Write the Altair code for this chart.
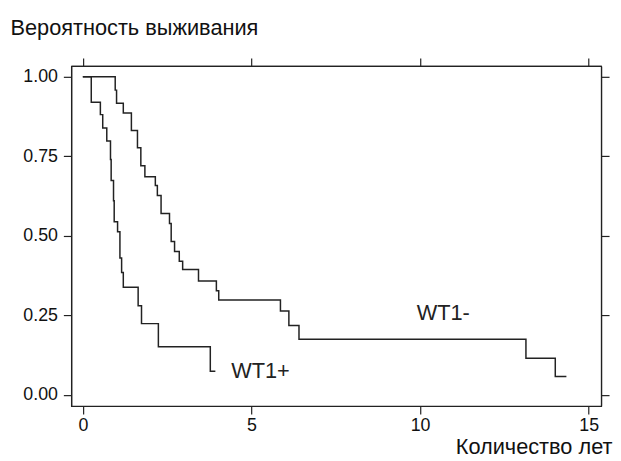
import altair as alt
import pandas as pd

# WT1+ group (Kaplan-Meier step points)
wt1p_time = [0, 0.25, 0.52, 0.59, 0.71, 0.82, 0.84, 0.91, 0.93, 1.03, 1.10, 1.15, 1.20, 1.64, 1.74, 2.24, 3.78, 3.93]
wt1p_surv = [1.0, 0.920, 0.881, 0.839, 0.798, 0.74, 0.674, 0.61, 0.544, 0.513, 0.43, 0.385, 0.338, 0.280, 0.224, 0.151, 0.074, 0.074]

# WT1- group
wt1m_time = [0, 0.96, 1.0, 1.20, 1.44, 1.62, 1.72, 1.84, 2.15, 2.21, 2.32, 2.57, 2.62, 2.72, 2.86, 2.96,
             3.43, 3.96, 4.03, 5.86, 6.11, 6.41, 13.14, 14.01, 14.34]
wt1m_surv = [1.0, 0.958, 0.917, 0.886, 0.831, 0.777, 0.72, 0.686, 0.658, 0.627, 0.570, 0.539, 0.482, 0.451, 0.420, 0.394,
             0.358, 0.327, 0.298, 0.264, 0.218, 0.175, 0.115, 0.058, 0.058]

label_text = ["WT1-", "WT1+"]
label_x = [9.9, 4.40]
label_y = [0.234, 0.053]

x_ticks = [0, 5, 10, 15]
y_ticks = [0, 0.25, 0.5, 0.75, 1.0]

FONT = "Liberation Sans"
INK = "#222222"

rows = []
for t, s in zip(wt1p_time, wt1p_surv):
    rows.append({"group": "WT1+", "t": t, "s": s})
for t, s in zip(wt1m_time, wt1m_surv):
    rows.append({"group": "WT1-", "t": t, "s": s})
df = pd.DataFrame(rows)
labels = pd.DataFrame({"txt": label_text, "t": label_x, "s": label_y})

xscale = alt.Scale(domain=[-0.343, 15.37], nice=False, zero=False)
yscale = alt.Scale(domain=[-0.035, 1.034], nice=False, zero=False)

lines = alt.Chart(df).mark_line(interpolate="step-after", color=INK, strokeWidth=1.5).encode(
    x=alt.X("t:Q", scale=xscale,
            axis=alt.Axis(values=x_ticks, format="d", orient="bottom", tickSize=8, labelPadding=3,
                          title="Количество лет", titleAngle=0, titleAlign="right", titleBaseline="alphabetic",
                          titleX=547, titleY=48, titleFontSize=22, titleFontWeight="normal")),
    y=alt.Y("s:Q", scale=yscale,
            axis=alt.Axis(values=y_ticks, format=".2f", orient="left", tickSize=8, labelPadding=6,
                          title="Вероятность выживания", titleAngle=0, titleAlign="left",
                          titleBaseline="alphabetic", titleX=-62, titleY=-32, titleFontSize=22,
                          titleFontWeight="normal")),
    detail="group:N",
)

texts = alt.Chart(labels).mark_text(align="left", baseline="alphabetic", fontSize=22, font=FONT, color=INK).encode(
    x=alt.X("t:Q", scale=xscale,
            axis=alt.Axis(values=x_ticks, orient="top", labels=False, tickSize=8, title=None)),
    y=alt.Y("s:Q", scale=yscale,
            axis=alt.Axis(values=y_ticks, orient="right", labels=False, tickSize=8, title=None)),
    text="txt:N",
)

chart = alt.layer(lines, texts).resolve_axis(x="independent", y="independent").properties(
    width=536, height=344,
    autosize=alt.AutoSizeParams(type="none"),
    padding={"left": 64, "top": 56, "right": 12, "bottom": 53},
).configure_view(
    stroke=INK, strokeWidth=1.2
).configure_axis(
    domainColor=INK, tickColor=INK, labelColor="#111111", titleColor="#111111",
    labelFont=FONT, titleFont=FONT, labelFontSize=18, grid=False, domainWidth=1.2, tickWidth=1.2,
)

chart.save("out.html", embed_options={"renderer": "svg", "actions": False})
